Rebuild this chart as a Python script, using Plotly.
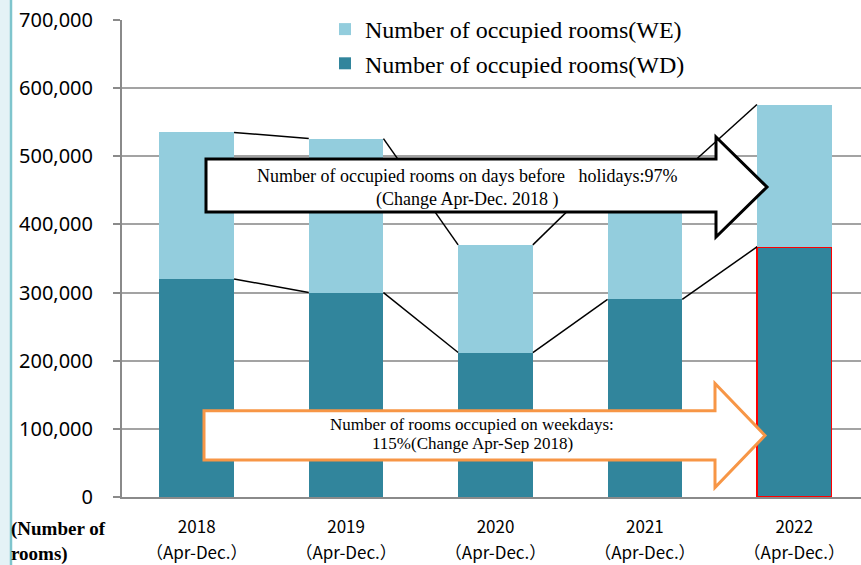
import plotly.graph_objects as go

# ---------------- data ----------------
years = ["2018", "2019", "2020", "2021", "2022"]
period = "（Apr-Dec.）"
wd_rooms = [320000, 300000, 212000, 290000, 367000]   # weekdays
we_rooms = [215000, 226000, 158000, 187000, 209000]   # days before holidays
y_tick_vals = [0, 100000, 200000, 300000, 400000, 500000, 600000, 700000]
y_tick_text = ["0", "100,000", "200,000", "300,000", "400,000", "500,000", "600,000", "700,000"]
name_we = "Number of occupied rooms(WE)"
name_wd = "Number of occupied rooms(WD)"
holiday_lines = ["Number of occupied rooms on days before\u00a0\u00a0\u00a0holidays:97%",
                 "(Change Apr-Dec. 2018 )"]
weekday_lines = ["Number of rooms occupied on weekdays:",
                 "115%(Change Apr-Sep 2018)"]
unit_label = "(Number of<br>rooms)"

# ---------------- styling ----------------
C_WE = "#93CDDD"
C_WD = "#31859C"
GRID = "#a3a3a3"
AXIS = "#8a8a8a"
SERIF = "Liberation Serif, Times New Roman, serif"
SANS = "Noto Sans, Open Sans, sans-serif"
CJK = "Noto Sans CJK JP, Noto Sans, sans-serif"
W, H = 861, 565
PL, PR, PT, PB = 122, 861, 20, 497
BAR_W = 0.5


def xp(px):
    return (px - PL) / (PR - PL)


def yp(py):
    return (PB - py) / (PB - PT)


xs = list(range(len(years)))
totals = [a + b for a, b in zip(wd_rooms, we_rooms)]
tick_text = [f"<span style='font-size:17px'>{y}</span><br>"
             f"<span style='font-size:17px'>{period}</span>" for y in years]

fig = go.Figure()
fig.add_trace(go.Bar(
    x=xs, y=wd_rooms, name=name_wd, width=BAR_W,
    marker=dict(color=C_WD,
                line=dict(color=["rgba(0,0,0,0)"] * (len(xs) - 1) + ["#ff0000"],
                          width=[0] * (len(xs) - 1) + [1.5])),
))
fig.add_trace(go.Bar(
    x=xs, y=we_rooms, name=name_we, width=BAR_W,
    marker=dict(color=C_WE, line=dict(width=0)),
))

shapes = []
# left decorative band
shapes.append(dict(type="rect", xref="paper", yref="paper",
                   x0=xp(0), x1=xp(10), y0=yp(0), y1=yp(H),
                   fillcolor="#e4f2f6", line=dict(width=0), layer="above"))
shapes.append(dict(type="line", xref="paper", yref="paper",
                   x0=xp(11), x1=xp(11), y0=yp(0), y1=yp(H),
                   line=dict(color="#7fc5cd", width=2.5), layer="above"))

# series connector lines
for series in (wd_rooms, totals):
    for i in range(len(xs) - 1):
        shapes.append(dict(type="line", xref="x", yref="y",
                           x0=xs[i] + BAR_W / 2, x1=xs[i + 1] - BAR_W / 2,
                           y0=series[i], y1=series[i + 1],
                           line=dict(color="black", width=1.5), layer="above"))


def arrow_path(left, body_top, body_bot, head_x, head_top, head_bot, tip_x, tip_y):
    pts = [(left, body_top), (head_x, body_top), (head_x, head_top), (tip_x, tip_y),
           (head_x, head_bot), (head_x, body_bot), (left, body_bot)]
    return "M " + " L ".join(f"{xp(a):.5f},{yp(b):.5f}" for a, b in pts) + " Z"


shapes.append(dict(type="path", xref="paper", yref="paper",
                   path=arrow_path(206, 159, 212, 716, 137, 237, 767, 187),
                   fillcolor="white", line=dict(color="black", width=3), layer="above"))
shapes.append(dict(type="path", xref="paper", yref="paper",
                   path=arrow_path(204, 410.7, 460, 715, 383.5, 487.5, 765, 435.5),
                   fillcolor="white", line=dict(color="#F79646", width=3), layer="above"))

annotations = []
for txt, cx, cy, fs in [(holiday_lines[0], 467, 176, 18), (holiday_lines[1], 467, 199, 18),
                        (weekday_lines[0], 472, 424, 17), (weekday_lines[1], 472, 443, 17)]:
    annotations.append(dict(text=txt, xref="paper", yref="paper", x=xp(cx), y=yp(cy),
                            xanchor="center", yanchor="middle", showarrow=False,
                            font=dict(family=SERIF, size=fs, color="black")))
annotations.append(dict(text=unit_label, xref="paper", yref="paper",
                        x=xp(9), y=yp(541), xanchor="left", yanchor="middle",
                        align="left", showarrow=False,
                        font=dict(family=SERIF, size=19, color="black", weight="bold")))

fig.update_layout(
    width=W, height=H,
    margin=dict(l=PL, r=W - PR, t=PT, b=H - PB, pad=0),
    barmode="stack",
    plot_bgcolor="white", paper_bgcolor="white",
    showlegend=True,
    legend=dict(traceorder="reversed", x=xp(325), y=yp(7), xanchor="left", yanchor="top",
                bgcolor="rgba(0,0,0,0)", font=dict(family=SERIF, size=24, color="black")),
    xaxis=dict(range=[-0.5, -0.5 + (PR - PL) / 149.4], tickvals=xs, ticktext=tick_text,
               showgrid=False, zeroline=False, showline=True, linecolor=AXIS, linewidth=2,
               ticks="", tickfont=dict(family=CJK, size=20, color="black"),
               ticklabelstandoff=10),
    yaxis=dict(range=[0, 700000], tickvals=y_tick_vals, ticktext=y_tick_text,
               showgrid=True, gridcolor=GRID, gridwidth=1.5, zeroline=False,
               showline=True, linecolor=AXIS, linewidth=2,
               ticks="outside", ticklen=7, tickcolor=AXIS, tickwidth=1.5,
               tickfont=dict(family=SANS, size=20, color="black"),
               ticklabelstandoff=16),
    shapes=shapes,
    annotations=annotations,
)

fig.write_html("out.html", config={"displayModeBar": False},
               post_script="document.body.style.margin='0';")
